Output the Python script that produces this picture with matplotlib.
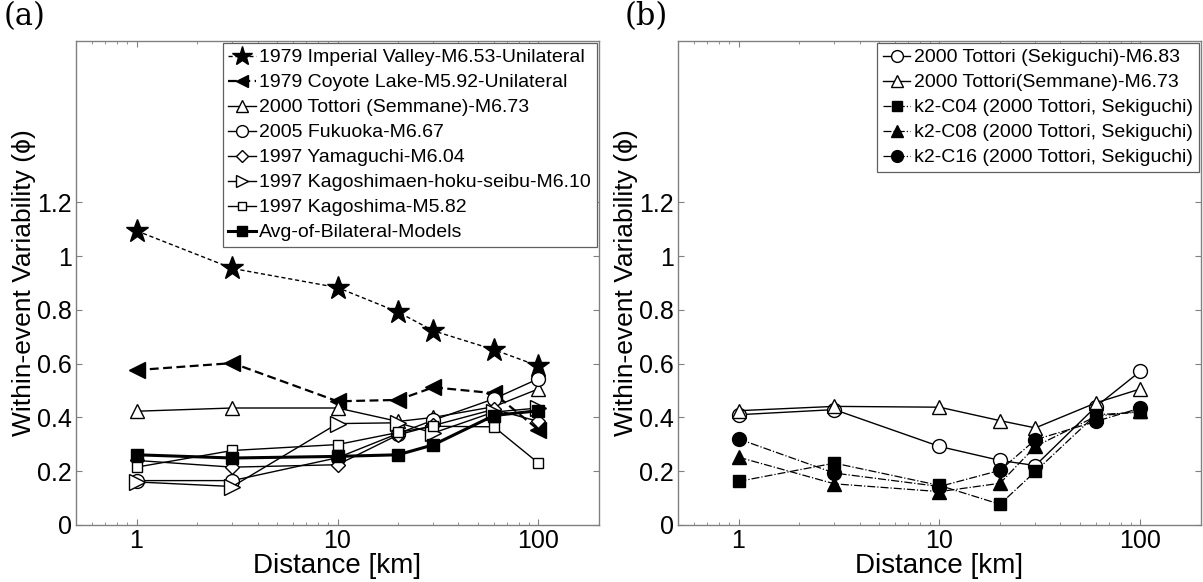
import numpy as np
import matplotlib
matplotlib.use('Agg')
import matplotlib.pyplot as plt
from matplotlib.ticker import FixedLocator, FixedFormatter, LogLocator, NullFormatter

plt.rcParams['font.family'] = ['Liberation Sans', 'DejaVu Sans']

# distances [km]
dist = [1, 3, 10, 20, 30, 60, 100]

# panel (a) series
imperial = [1.094, 0.954, 0.883, 0.792, 0.722, 0.652, 0.591]
coyote = [0.576, 0.602, 0.46, 0.465, 0.512, 0.49, 0.354]
tottori_sem_a = [0.423, 0.435, 0.435, 0.385, 0.40, 0.44, 0.506]
fukuoka = [0.165, 0.165, 0.25, 0.34, 0.39, 0.469, 0.544]
yamaguchi = [0.24, 0.215, 0.224, 0.335, 0.37, 0.43, 0.385]
kagoshimaen = [0.16, 0.143, 0.377, 0.38, 0.342, 0.42, 0.435]
kagoshima = [0.215, 0.277, 0.299, 0.344, 0.367, 0.365, 0.23]
avg_bilateral = [0.261, 0.249, 0.255, 0.261, 0.298, 0.407, 0.425]

# panel (b) series
tottori_sek = [0.41, 0.429, 0.292, 0.24, 0.221, 0.44, 0.572]
tottori_sem_b = [0.425, 0.441, 0.438, 0.388, 0.361, 0.454, 0.506]
k2_c04 = [0.162, 0.23, 0.147, 0.077, 0.199, 0.41, 0.419]
k2_c08 = [0.252, 0.153, 0.124, 0.155, 0.292, 0.404, 0.423]
k2_c16 = [0.32, 0.193, 0.143, 0.203, 0.317, 0.385, 0.435]

fig = plt.figure(figsize=(12.03, 5.82), dpi=100)
ax1 = fig.add_axes([0.0632, 0.098, 0.4347, 0.8316])
ax2 = fig.add_axes([0.5636, 0.098, 0.4347, 0.8316])


def style_axes(ax):
    ax.set_xscale('log')
    ax.set_xlim(0.5, 200)
    ax.set_ylim(0, 1.8)
    ax.xaxis.set_major_locator(FixedLocator([1, 10, 100]))
    ax.xaxis.set_major_formatter(FixedFormatter(['1', '10', '100']))
    ax.xaxis.set_minor_locator(LogLocator(base=10, subs=np.arange(2, 10)))
    ax.xaxis.set_minor_formatter(NullFormatter())
    ax.set_yticks([0, 0.2, 0.4, 0.6, 0.8, 1.0, 1.2])
    ax.set_yticklabels(['0', '0.2', '0.4', '0.6', '0.8', '1', '1.2'])
    ax.tick_params(which='both', direction='in', top=True, right=True,
                   labelsize=18, color='#808080', pad=3)
    ax.tick_params(which='major', length=4)
    ax.tick_params(which='minor', length=2.5)
    for s in ax.spines.values():
        s.set_color('#808080')
        s.set_linewidth(1.0)
    ax.set_xlabel('Distance [km]', fontsize=20, labelpad=0)
    ax.set_ylabel('Within-event Variability (\u03d5)', fontsize=19, labelpad=1)


leg_kw = dict(loc='upper right', fontsize=14, handlelength=1.4,
              handletextpad=0.2, borderaxespad=0.1, borderpad=0.3,
              labelspacing=0.38, fancybox=False, framealpha=1,
              edgecolor='#606060', markerscale=0.85)

# (a)
ax1.plot(dist, imperial, ls=(0, (3, 2)), color='k', lw=1, marker='*', ms=17,
         mfc='k', mec='k', label='1979 Imperial Valley-M6.53-Unilateral')
ax1.plot(dist, coyote, ls=(0, (4, 2)), color='k', lw=1.6, marker='<', ms=11,
         mfc='k', mec='k', label='1979 Coyote Lake-M5.92-Unilateral')
ax1.plot(dist, tottori_sem_a, ls='-', color='k', lw=1, marker='^', ms=10,
         mfc='w', mec='k', label='2000 Tottori (Semmane)-M6.73')
ax1.plot(dist, fukuoka, ls='-', color='k', lw=1, marker='o', ms=10,
         mfc='w', mec='k', label='2005 Fukuoka-M6.67')
ax1.plot(dist, yamaguchi, ls='-', color='k', lw=1, marker='D', ms=7,
         mfc='w', mec='k', label='1997 Yamaguchi-M6.04')
ax1.plot(dist, kagoshimaen, ls='-', color='k', lw=1, marker='>', ms=11,
         mfc='w', mec='k', label='1997 Kagoshimaen-hoku-seibu-M6.10')
ax1.plot(dist, kagoshima, ls='-', color='k', lw=1, marker='s', ms=7,
         mfc='w', mec='k', label='1997 Kagoshima-M5.82')
ax1.plot(dist, avg_bilateral, ls='-', color='k', lw=2.2, marker='s', ms=9,
         mfc='k', mec='k', label='Avg-of-Bilateral-Models')
style_axes(ax1)
leg1 = ax1.legend(**leg_kw)
leg1.get_frame().set_linewidth(0.9)

# (b)
ax2.plot(dist, tottori_sek, ls='-', color='k', lw=1, marker='o', ms=10,
         mfc='w', mec='k', label='2000 Tottori (Sekiguchi)-M6.83')
ax2.plot(dist, tottori_sem_b, ls='-', color='k', lw=1, marker='^', ms=10,
         mfc='w', mec='k', label='2000 Tottori(Semmane)-M6.73')
ax2.plot(dist, k2_c04, ls='-.', color='k', lw=0.9, marker='s', ms=9,
         mfc='k', mec='k', label='k2-C04 (2000 Tottori, Sekiguchi)')
ax2.plot(dist, k2_c08, ls='-.', color='k', lw=0.9, marker='^', ms=10,
         mfc='k', mec='k', label='k2-C08 (2000 Tottori, Sekiguchi)')
ax2.plot(dist, k2_c16, ls='-.', color='k', lw=0.9, marker='o', ms=10,
         mfc='k', mec='k', label='k2-C16 (2000 Tottori, Sekiguchi)')
style_axes(ax2)
leg2 = ax2.legend(**leg_kw)
leg2.get_frame().set_linewidth(0.9)

fig.text(0.003, 0.998, '(a)', fontsize=22, family='DejaVu Serif', va='top', ha='left')
fig.text(0.519, 0.998, '(b)', fontsize=22, family='DejaVu Serif', va='top', ha='left')

fig.savefig('out.png', dpi=100)
